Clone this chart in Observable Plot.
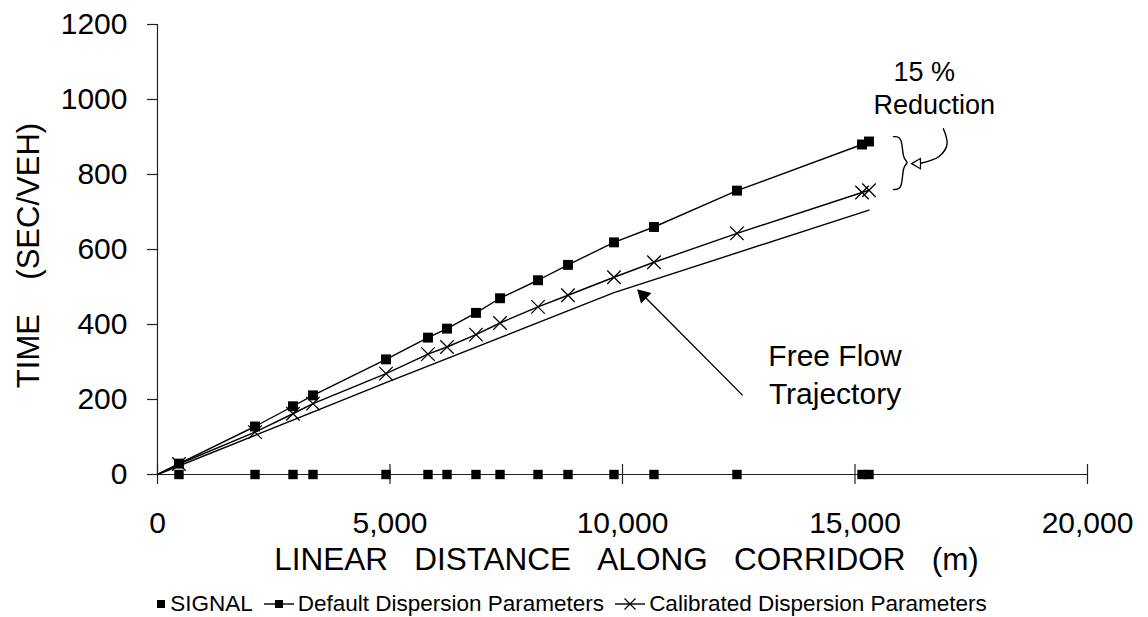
<!DOCTYPE html>
<html>
<head>
<meta charset="utf-8">
<script src="https://cdn.jsdelivr.net/npm/d3@7"></script>
<script src="https://cdn.jsdelivr.net/npm/@observablehq/plot@0.6"></script>
<style>
  html, body { margin: 0; padding: 0; background: #fff; }
  body { width: 1148px; height: 617px; overflow: hidden; font-family: Arial, "Liberation Sans", sans-serif; color: #000; }
  #chart svg { display: block; }
  #legend { display: flex; justify-content: center; align-items: center; height: 30px; margin-top: 4px; padding-right: 6px; font-size: 22.5px; white-space: nowrap; }
  #legend .item { display: flex; align-items: center; margin: 0 5px; }
  #legend svg { margin-right: 3px; }
</style>
</head>
<body>
<div id="chart"></div>
<div id="legend"></div>
<script>
// ---- data ----
const distance = [0, 462, 2097, 2914, 3344, 4914, 5817, 6226, 6849, 7366, 8183, 8828, 9817, 10677, 12462, 15151, 15301];
const defaultTime = [0, 29, 128, 182, 211, 307, 365, 389, 431, 470, 518, 559, 619, 660, 757, 880, 888];
const calibratedTime = [0, 28, 113, 162, 189, 269, 321, 340, 373, 404, 447, 478, 526, 566, 643, 752, 758];
const signalDistance = distance.slice(1);
const freeFlowDistance = [0, 4914, 9817, 15301];
const freeFlowTime = [0, 245, 485, 705];
const xTicks = [0, 5000, 10000, 15000, 20000];
const yTicks = [0, 200, 400, 600, 800, 1000, 1200];
const sp3 = "\u00a0\u00a0\u00a0";
const xTitle = ["LINEAR", "DISTANCE", "ALONG", "CORRIDOR", "(m)"].join(sp3);
const yTitle = "TIME" + sp3 + "\u00a0(SEC/VEH)";
const seriesNames = ["SIGNAL", "Default Dispersion Parameters", "Calibrated Dispersion Parameters"];

// annotation anchors (data units)
const noteText = ["15 %", "Reduction", "Free Flow", "Trajectory"];
const noteX = [15828, 15398, 14570, 14570];
const noteY = [1072, 984, 315, 213];
const noteAnchor = ["start", "start", "middle", "middle"];
// brace spanning the two end values
const braceX = [15828, 16020, 16020, 16172, 16020, 16020, 15828];
const braceY = [901, 901, 840, 832, 824, 760, 760];
// curved pointer to the brace
const curveX = [16901, 16979, 16807, 16417];
const curveY = [922, 880, 848, 830];
const curveHead = {x: 16344, y: 829};
// free-flow pointer
const ffArrowTail = {x: 12585, y: 211};
const ffArrowHead = {x: 10445, y: 478};

// ---- tables ----
const rows = distance.map((d, i) => ({distance: d, def: defaultTime[i], cal: calibratedTime[i]}));
const markerRows = rows.filter(d => d.distance > 0);
const freeFlow = freeFlowDistance.map((d, i) => ({distance: d, time: freeFlowTime[i]}));
const notes = noteText.map((t, i) => ({text: t, x: noteX[i], y: noteY[i], anchor: noteAnchor[i]}));
const brace = braceX.map((x, i) => ({x, y: braceY[i]}));
const curve = curveX.map((x, i) => ({x, y: curveY[i]}));

const font = "Arial, 'Liberation Sans', sans-serif";

const chart = Plot.plot({
  width: 1148,
  height: 585,
  marginLeft: 157,
  marginRight: 61,
  marginTop: 24,
  marginBottom: 111,
  style: {fontFamily: font, background: "white", color: "black", overflow: "visible"},
  x: {domain: [0, 20000]},
  y: {domain: [0, 1200]},
  marks: [
    Plot.axisY({ticks: yTicks, tickSize: 10, tickPadding: 20, fontSize: 30, tickFormat: d => String(d), label: null, stroke: "#222", strokeWidth: 1.2}),
    Plot.axisX({ticks: xTicks, tickSize: 20, dy: -10, tickPadding: 27, fontSize: 30, tickFormat: d3.format(","), label: null, stroke: "#222", strokeWidth: 1.2}),
    Plot.ruleX([0], {stroke: "#222", strokeWidth: 1.2}),
    Plot.ruleY([0], {stroke: "#222", strokeWidth: 1.2}),
    Plot.text([xTitle], {frameAnchor: "bottom", textAnchor: "middle", dx: 4, dy: 95, fontSize: 31.5, fill: "black"}),
    Plot.text([yTitle], {frameAnchor: "left", textAnchor: "middle", rotate: -90, dx: -128, dy: 6, fontSize: 31, fill: "black"}),
    Plot.line(freeFlow, {x: "distance", y: "time", stroke: "black", strokeWidth: 1.4}),
    Plot.line(rows, {x: "distance", y: "def", stroke: "black", strokeWidth: 1.4}),
    Plot.line(rows, {x: "distance", y: "cal", stroke: "black", strokeWidth: 1.4}),
    Plot.dot(markerRows, {x: "distance", y: "def", symbol: "square", r: 5.6, fill: "black", stroke: "none"}),
    Plot.dot(markerRows, {x: "distance", y: "cal", symbol: "times", r: 6.2, stroke: "black", strokeWidth: 1.3}),
    Plot.dot(signalDistance, {x: d => d, y: () => 0, symbol: "square", r: 5.3, fill: "black", stroke: "none"}),
    Plot.text(notes.filter(n => n.anchor === "start"), {x: "x", y: "y", text: "text", fontSize: 27, textAnchor: "start", fill: "black"}),
    Plot.text(notes.filter(n => n.anchor === "middle"), {x: "x", y: "y", text: "text", fontSize: 30, textAnchor: "middle", fill: "black"}),
    Plot.line(brace, {x: "x", y: "y", curve: "basis", stroke: "black", strokeWidth: 1.4}),
    Plot.line(curve, {x: "x", y: "y", curve: "catmull-rom", stroke: "black", strokeWidth: 1.4}),
    Plot.dot([curveHead], {x: "x", y: "y", symbol: "triangle", r: 3.8, rotate: -90, fill: "white", stroke: "black", strokeWidth: 1.2}),
    Plot.link([{x1: ffArrowTail.x, y1: ffArrowTail.y, x2: ffArrowHead.x, y2: ffArrowHead.y}], {x1: "x1", y1: "y1", x2: "x2", y2: "y2", stroke: "black", strokeWidth: 1.4}),
    Plot.dot([ffArrowHead], {x: "x", y: "y", symbol: "triangle", r: 5.5, rotate: -45, fill: "black", stroke: "none"})
  ]
});
document.getElementById("chart").appendChild(chart);

// ---- legend ----
const legend = document.getElementById("legend");
const swatches = [
  `<svg width="12" height="20"><rect x="2" y="6" width="8" height="8" fill="black"/></svg>`,
  `<svg width="32" height="20"><line x1="1" x2="31" y1="10" y2="10" stroke="black" stroke-width="1.4"/><rect x="12" y="6" width="8" height="8" fill="black"/></svg>`,
  `<svg width="32" height="20"><line x1="1" x2="31" y1="10" y2="10" stroke="black" stroke-width="1.4"/><path d="M10.5,4.5L21.5,15.5M10.5,15.5L21.5,4.5" stroke="black" stroke-width="1.2"/></svg>`
];
seriesNames.forEach((name, i) => {
  const item = document.createElement("span");
  item.className = "item";
  item.innerHTML = swatches[i] + `<span>${name}</span>`;
  legend.appendChild(item);
});
</script>
</body>
</html>
